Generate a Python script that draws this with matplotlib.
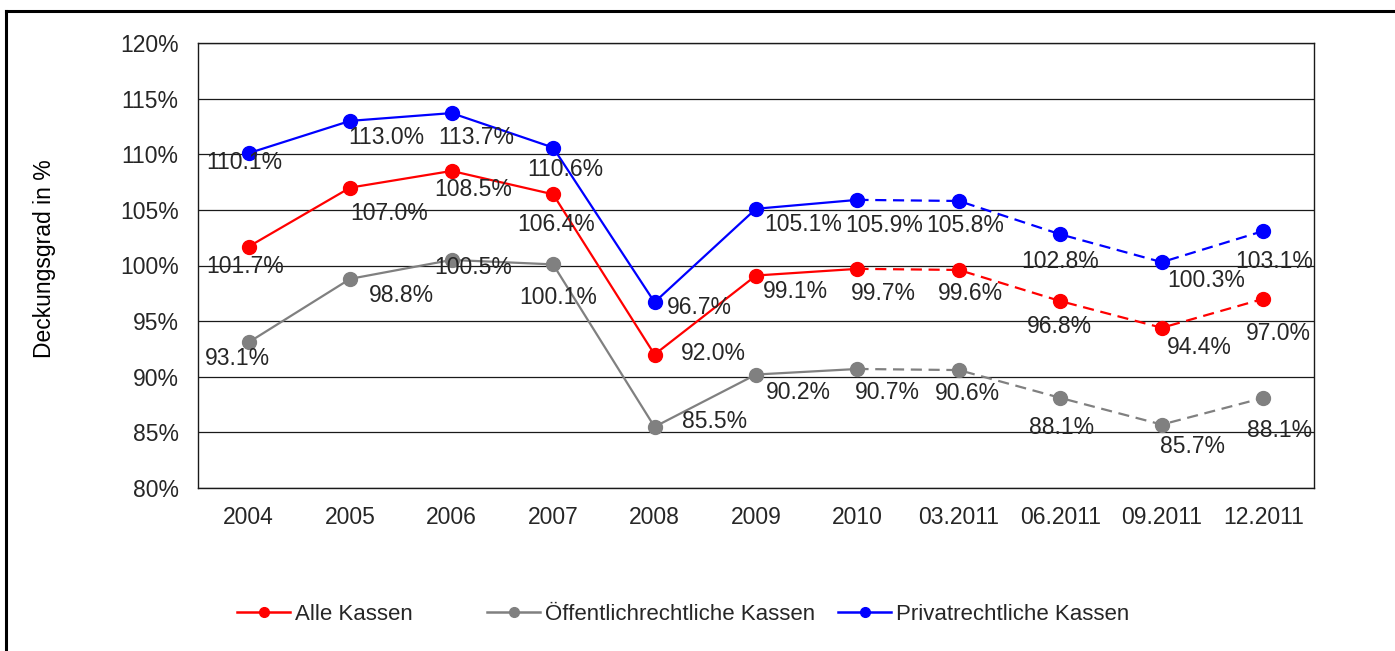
import matplotlib
matplotlib.use("Agg")
import matplotlib.pyplot as plt
from matplotlib.lines import Line2D

plt.rcParams['font.family'] = ['Liberation Sans', 'DejaVu Sans']

perioden = ["2004", "2005", "2006", "2007", "2008", "2009", "2010",
            "03.2011", "06.2011", "09.2011", "12.2011"]
alle = [101.7, 107.0, 108.5, 106.4, 92.0, 99.1, 99.7, 99.6, 96.8, 94.4, 97.0]
oeffentlich = [93.1, 98.8, 100.5, 100.1, 85.5, 90.2, 90.7, 90.6, 88.1, 85.7, 88.1]
privat = [110.1, 113.0, 113.7, 110.6, 96.7, 105.1, 105.9, 105.8, 102.8, 100.3, 103.1]
namen = ["Alle Kassen", "Öffentlichrechtliche Kassen", "Privatrechtliche Kassen"]
farben = ["#ff0000", "#808080", "#0000ff"]

# ab 2010 gestrichelt (Quartalswerte)
ab_quartal = 6

# Verschiebung der Wertbeschriftungen in Pixeln (dx, dy nach unten)
off_alle = [(-4, 20), (39, 26), (22, 19), (3, 30), (59, -1), (39, 16),
            (26, 25), (12, 24), (-1, 25), (37, 20), (15, 35)]
off_oeff = [(-11, 16), (51, 17), (22, 8), (5, 33), (60, -5), (42, 18),
            (30, 24), (9, 23), (1, 30), (31, 22), (16, 33)]
off_priv = [(-4, 9), (36, 17), (25, 24), (12, 22), (45, 5), (47, 16),
            (27, 26), (6, 25), (0, 27), (44, 18), (11, 30)]

fig = plt.figure(figsize=(13.95, 6.51), dpi=100)
ax = fig.add_axes([198 / 1395, 1 - 488 / 651, (1314 - 198) / 1395, (488 - 43) / 651])

x = list(range(len(perioden)))
textfarbe = "#262626"
fs = 16.5

for werte, farbe, offs in zip([alle, oeffentlich, privat], farben,
                              [off_alle, off_oeff, off_priv]):
    ax.plot(x[:ab_quartal + 1], werte[:ab_quartal + 1], color=farbe, lw=1.6, zorder=3)
    ax.plot(x[ab_quartal:], werte[ab_quartal:], color=farbe, lw=1.6, ls=(0, (5, 3)), zorder=3)
    ax.plot(x, werte, ls="none", marker="o", ms=10, color=farbe, zorder=4)
    for xi, v, (dx, dy) in zip(x, werte, offs):
        ax.annotate(f"{v:.1f}%", (xi, v), xytext=(dx, -dy), textcoords="offset pixels",
                    ha="center", va="center", fontsize=fs, color=textfarbe, zorder=5)

ax.set_xlim(-0.5, len(perioden) - 0.5)
ax.set_ylim(80, 120)
ax.set_yticks(range(80, 121, 5))
ax.set_yticklabels([f"{t}%" for t in range(80, 121, 5)])
ax.set_xticks(x)
ax.set_xticklabels(perioden)
ax.tick_params(axis="both", length=0, labelsize=fs, colors=textfarbe)
ax.tick_params(axis="y", pad=14)
ax.tick_params(axis="x", pad=13)
ax.grid(axis="y", color="#1a1a1a", lw=0.9, zorder=1)
for s in ax.spines.values():
    s.set_color("#1a1a1a")
    s.set_linewidth(1.0)

fig.text(45 / 1395, 1 - 259 / 651, "Deckungsgrad in %", rotation=90, ha="center",
         va="center", fontsize=fs, color="#000000")

# Legende: drei einzelne Einträge nebeneinander
for name, farbe, xpos in zip(namen, farben, [237, 487, 838]):
    h = Line2D([], [], color=farbe, lw=1.8, marker="o", ms=7)
    leg = fig.legend([h], [name], loc="center left",
                     bbox_to_anchor=(xpos / 1395, 1 - 614 / 651), frameon=False,
                     fontsize=16, handlelength=2.4, handletextpad=0.2,
                     borderaxespad=0, borderpad=0)
    for t in leg.get_texts():
        t.set_color(textfarbe)

# Rahmen oben und links
fig.add_artist(Line2D([6 / 1395, 6 / 1395], [0, 1 - 11 / 651], color="black", lw=2.2,
                      transform=fig.transFigure))
fig.add_artist(Line2D([6 / 1395, 1], [1 - 11 / 651, 1 - 11 / 651], color="black", lw=2.2,
                      transform=fig.transFigure))

fig.savefig("out.png", dpi=100)
